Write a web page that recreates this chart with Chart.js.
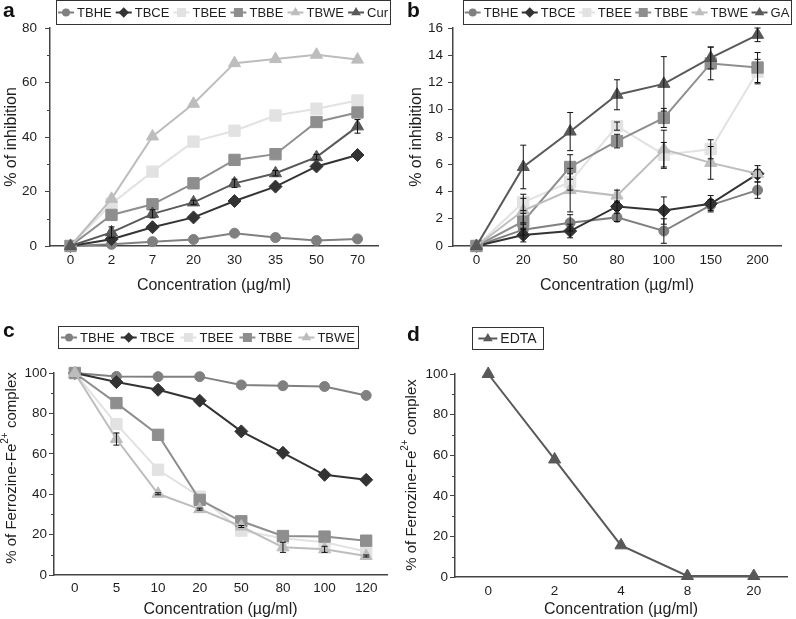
<!DOCTYPE html>
<html>
<head>
<meta charset="utf-8">
<script src="https://cdn.jsdelivr.net/npm/chart.js@4/dist/chart.umd.min.js"></script>
<style>
  body { margin: 0; background: #fff; width: 796px; height: 619px; position: relative; overflow: hidden; }
  canvas { position: absolute; }
</style>
</head>
<body>
<canvas id="chartA" width="400" height="300" style="left:0;top:0"></canvas>
<canvas id="chartB" width="396" height="300" style="left:400px;top:0"></canvas>
<canvas id="chartC" width="400" height="319" style="left:0;top:300px"></canvas>
<canvas id="chartD" width="396" height="319" style="left:400px;top:300px"></canvas>
<script>
// ---- data ----
let concA = ['0', '2', '7', '20', '30', '35', '50', '70'];
let a_tbhe = [0, 0.6, 1.6, 2.4, 4.7, 3.1, 2.0, 2.6];
let a_tbce = [0, 2.5, 6.9, 10.5, 16.5, 21.8, 29.2, 33.4];
let a_tbee = [0, 15.5, 27.3, 38.3, 42.3, 47.9, 50.4, 53.4];
let a_tbbe = [0, 11.4, 15.3, 23.0, 31.6, 33.7, 45.5, 49.0];
let a_tbwe = [0, 17.3, 40.2, 52.2, 67.1, 68.6, 70.2, 68.4];
let a_cur = [0, 5.0, 11.8, 16.0, 23.0, 26.7, 32.6, 43.9];
let a_curErr = [0, 2.0, 1.5, 0.8, 1.5, 1.0, 1.0, 2.5];

let concB = ['0', '20', '50', '80', '100', '150', '200'];
let b_tbhe = [0, 1.2, 1.7, 2.1, 1.1, 3.0, 4.1];
let b_tbce = [0, 0.8, 1.1, 2.9, 2.6, 3.1, 5.3];
let b_tbee = [0, 3.2, 4.7, 8.8, 6.7, 7.1, 12.8];
let b_tbbe = [0, 1.8, 5.8, 7.7, 9.4, 13.4, 13.1];
let b_tbwe = [0, 2.6, 4.1, 3.7, 7.1, 6.1, 5.3];
let b_ga = [0, 5.8, 8.4, 11.1, 11.9, 13.8, 15.5];
let b_tbheErr = [0, 0.4, 0.6, 0.3, 0.9, 0.4, 0.6];
let b_tbceErr = [0, 0.5, 0.5, 0.3, 1.0, 0.6, 0.6];
let b_tbeeErr = [0, 0.6, 0.6, 0.3, 0.9, 0.7, 0.9];
let b_tbbeErr = [0, 0.6, 0.9, 0.5, 0.7, 1.2, 1.1];
let b_tbweErr = [0, 0.9, 1.6, 0.4, 1.4, 1.2, 0.3];
let b_gaErr = [0, 1.6, 1.4, 1.1, 2.0, 0.8, 0.5];

let concC = ['0', '5', '10', '20', '50', '80', '100', '120'];
let c_tbhe = [100, 98.3, 98.2, 98.2, 94.1, 93.7, 93.3, 88.9];
let c_tbce = [100, 95.5, 91.7, 86.3, 71.1, 60.5, 49.6, 47.1];
let c_tbee = [100, 74.7, 52.1, 38.8, 22.0, 18.2, 16.2, 11.6];
let c_tbbe = [100, 85.1, 69.4, 37.2, 26.6, 19.3, 19.0, 17.0];
let c_tbwe = [100, 67.3, 40.2, 32.6, 24.0, 13.7, 12.7, 9.4];
let c_tbweErr = [0, 3.0, 0.5, 0.5, 0.5, 2.5, 1.5, 0.5];

let concD = ['0', '2', '4', '8', '20'];
let d_edta = [100, 57.9, 15.6, 0.5, 0.5];

// ---- look ----
const FONT = '"Liberation Sans", Arial, sans-serif';
const AXIS = '#444';
const TEXT = '#1e1e1e';

let styles = {
    TBHE: { color: '#808080', point: 'circle', r: 5 },
    TBCE: { color: '#333333', point: 'rectRot', r: 6.5 },
    TBEE: { color: '#e2e2e2', point: 'rect', r: 8 },
    TBBE: { color: '#8e8e8e', point: 'rect', r: 8 },
    TBWE: { color: '#bdbdbd', point: 'triangle', r: 7 },
    DARK: { color: '#595959', point: 'triangle', r: 7 },
};

let makeSet = function (label, data, errors, st, i) {
    return {
        label: label, data: data, errors: errors,
        borderColor: st.color, backgroundColor: st.color,
        pointStyle: st.point, pointRadius: st.r, pointHoverRadius: st.r,
        pointBorderWidth: 1, borderWidth: 2, tension: 0, clip: false,
        order: -i,
    };
};

// draws marker shapes for the legend
let drawMarker = function (ctx, style, r, x, y) {
    ctx.beginPath();
    if (style === 'circle') {
        ctx.arc(x, y, r, 0, Math.PI * 2);
    } else if (style === 'rect') {
        let s = r * Math.SQRT1_2;
        ctx.rect(x - s, y - s, 2 * s, 2 * s);
    } else if (style === 'rectRot') {
        ctx.moveTo(x, y - r); ctx.lineTo(x + r, y); ctx.lineTo(x, y + r); ctx.lineTo(x - r, y);
        ctx.closePath();
    } else if (style === 'triangle') {
        ctx.moveTo(x, y - r);
        ctx.lineTo(x + r * Math.sin(2 * Math.PI / 3), y - r * Math.cos(2 * Math.PI / 3));
        ctx.lineTo(x + r * Math.sin(4 * Math.PI / 3), y - r * Math.cos(4 * Math.PI / 3));
        ctx.closePath();
    }
    ctx.fill();
};

const errorBars = {
    id: 'errorBars',
    afterDatasetsDraw(chart) {
        let ctx = chart.ctx, ys = chart.scales.y;
        ctx.save();
        ctx.strokeStyle = '#111';
        ctx.lineWidth = 1;
        chart.data.datasets.forEach(function (d, i) {
            if (!d.errors) return;
            chart.getDatasetMeta(i).data.forEach(function (pt, j) {
                let e = d.errors[j];
                if (!e) return;
                let y1 = ys.getPixelForValue(d.data[j] + e);
                let y2 = ys.getPixelForValue(Math.max(0, d.data[j] - e));
                ctx.beginPath();
                ctx.moveTo(pt.x, y1); ctx.lineTo(pt.x, y2);
                ctx.moveTo(pt.x - 3, y1); ctx.lineTo(pt.x + 3, y1);
                ctx.moveTo(pt.x - 3, y2); ctx.lineTo(pt.x + 3, y2);
                ctx.stroke();
            });
        });
        ctx.restore();
    }
};

const extras = {
    id: 'extras',
    afterDraw(chart, args, o) {
        let ctx = chart.ctx;
        let area = chart.chartArea;
        ctx.save();

        // minor ticks on y
        let ys = chart.scales.y;
        ctx.strokeStyle = AXIS;
        ctx.lineWidth = 1;
        ys.ticks.forEach(function (t) {
            if (t.value % o.major === 0) return;
            let py = Math.round(ys.getPixelForValue(t.value)) + 0.5;
            ctx.beginPath(); ctx.moveTo(area.left - 3, py); ctx.lineTo(area.left, py); ctx.stroke();
        });

        // panel letter
        ctx.fillStyle = '#111';
        ctx.font = 'bold 21px ' + FONT;
        ctx.textBaseline = 'alphabetic';
        ctx.fillText(o.letter, o.lx, o.ly);

        // legend in a box
        let lg = o.legend;
        ctx.font = lg.size + 'px ' + FONT;
        let sets = chart.data.datasets;
        let widths = sets.map(function (d) { return ctx.measureText(d.label).width; });
        let sum = widths.reduce(function (a, b) { return a + b; }, 0);
        let g = (lg.w - sets.length * (lg.line + 3) - sum) / sets.length;
        ctx.strokeStyle = '#333';
        ctx.strokeRect(lg.x + 0.5, lg.y + 0.5, lg.w, lg.h);
        let x = lg.x + g / 2;
        let cy = lg.y + lg.h / 2 + 0.5;
        ctx.textBaseline = 'middle';
        sets.forEach(function (d, i) {
            ctx.strokeStyle = d.borderColor;
            ctx.fillStyle = d.borderColor;
            ctx.lineWidth = 2;
            ctx.beginPath(); ctx.moveTo(x, cy); ctx.lineTo(x + lg.line, cy); ctx.stroke();
            drawMarker(ctx, d.pointStyle, d.pointRadius * 0.8, x + lg.line / 2, cy);
            x += lg.line + 3;
            ctx.fillStyle = TEXT;
            ctx.fillText(d.label, x, cy + 1);
            x += widths[i] + g;
        });

        // y title with superscript
        if (o.yTitle) {
            let yt = o.yTitle;
            ctx.translate(yt.x, yt.y);
            ctx.rotate(-Math.PI / 2);
            ctx.fillStyle = TEXT;
            let big = yt.size + 'px ' + FONT, small = Math.round(yt.size * 0.65) + 'px ' + FONT;
            let w = 0;
            yt.parts.forEach(function (p) { ctx.font = p.sup ? small : big; w += ctx.measureText(p.text).width; });
            let tx = -w / 2;
            yt.parts.forEach(function (p) {
                ctx.font = p.sup ? small : big;
                ctx.fillText(p.text, tx, p.sup ? -yt.size * 0.42 : 0);
                tx += ctx.measureText(p.text).width;
            });
        }
        ctx.restore();
    }
};

let makeChart = function (id, labels, datasets, p) {
    return new Chart(document.getElementById(id), {
        type: 'line',
        data: { labels: labels, datasets: datasets },
        plugins: [errorBars, extras],
        options: {
            responsive: false,
            animation: false,
            events: [],
            layout: { padding: { top: p.top, right: p.right, bottom: 0, left: 0 } },
            plugins: {
                legend: { display: false },
                tooltip: { enabled: false },
                extras: p.extras,
            },
            scales: {
                x: {
                    type: 'category',
                    offset: true,
                    grid: { display: false, drawTicks: false },
                    border: { color: AXIS, width: 1.5 },
                    ticks: { color: TEXT, font: { family: FONT, size: 13.5 }, padding: p.xPad, maxRotation: 0, autoSkip: false },
                    title: { display: true, text: 'Concentration (µg/ml)', color: TEXT, font: { family: FONT, size: 16 }, padding: { top: 0, bottom: p.xTitlePad } },
                    afterFit: function (s) { s.height = p.xHeight; },
                },
                y: {
                    min: 0, max: p.max,
                    grid: {
                        drawOnChartArea: false, tickLength: 5,
                        tickColor: function (c) { return c.tick && c.tick.value % p.extras.major === 0 ? AXIS : 'rgba(0,0,0,0)'; },
                    },
                    border: { color: AXIS, width: 1.5 },
                    ticks: {
                        stepSize: p.extras.major / 2, color: TEXT, font: { family: FONT, size: 13.5 }, padding: p.yPad,
                        callback: function (v) { return v % p.extras.major === 0 ? v : ''; },
                    },
                    title: { display: !!p.yTitle, text: p.yTitle, color: TEXT, font: { family: FONT, size: 16 }, padding: { top: p.yTitlePad, bottom: 0 } },
                    afterFit: function (s) { s.width = p.yWidth; },
                },
            },
        },
    });
};

// panel a
makeChart('chartA', concA, [
    makeSet('TBHE', a_tbhe, null, styles.TBHE, 0),
    makeSet('TBCE', a_tbce, null, styles.TBCE, 1),
    makeSet('TBEE', a_tbee, null, styles.TBEE, 2),
    makeSet('TBBE', a_tbbe, null, styles.TBBE, 3),
    makeSet('TBWE', a_tbwe, null, styles.TBWE, 4),
    makeSet('Cur', a_cur, a_curErr, styles.DARK, 5),
], {
    top: 28, right: 22, max: 80, yWidth: 50, xHeight: 54, xPad: 6, xTitlePad: 5, yPad: 8, yTitle: '% of inhibition', yTitlePad: 2,
    extras: { major: 20, letter: 'a', lx: 3, ly: 17, legend: { x: 56, y: 0, w: 334, h: 24, line: 16, size: 13 } },
});

// panel b
makeChart('chartB', concB, [
    makeSet('TBHE', b_tbhe, b_tbheErr, styles.TBHE, 0),
    makeSet('TBCE', b_tbce, b_tbceErr, styles.TBCE, 1),
    makeSet('TBEE', b_tbee, b_tbeeErr, styles.TBEE, 2),
    makeSet('TBBE', b_tbbe, b_tbbeErr, styles.TBBE, 3),
    makeSet('TBWE', b_tbwe, b_tbweErr, styles.TBWE, 4),
    makeSet('GA', b_ga, b_gaErr, styles.DARK, 5),
], {
    top: 28, right: 15, max: 16, yWidth: 53, xHeight: 54, xPad: 6, xTitlePad: 5, yPad: 5, yTitle: '% of inhibition', yTitlePad: 7,
    extras: { major: 2, letter: 'b', lx: 7, ly: 17, legend: { x: 63, y: 0, w: 328, h: 24, line: 16, size: 13 } },
});

// panel c
makeChart('chartC', concC, [
    makeSet('TBHE', c_tbhe, null, styles.TBHE, 0),
    makeSet('TBCE', c_tbce, null, styles.TBCE, 1),
    makeSet('TBEE', c_tbee, null, styles.TBEE, 2),
    makeSet('TBBE', c_tbbe, null, styles.TBBE, 3),
    makeSet('TBWE', c_tbwe, c_tbweErr, styles.TBWE, 4),
], {
    top: 73, right: 13, max: 100, yWidth: 54, xHeight: 44, xPad: 5, xTitlePad: 0, yPad: 2, yTitle: '', yTitlePad: 0,
    extras: {
        major: 20, letter: 'c', lx: 3, ly: 37, legend: { x: 58, y: 26, w: 300, h: 22, line: 16, size: 13 },
        yTitle: { x: 12, y: 168, size: 15, parts: [{ text: '% of Ferrozine-Fe' }, { text: '2+', sup: true }, { text: ' complex' }] },
    },
});

// panel d
makeChart('chartD', concD, [
    makeSet('EDTA', d_edta, null, styles.DARK, 0),
], {
    top: 74, right: 9, max: 100, yWidth: 55, xHeight: 42, xPad: 6, xTitlePad: 0, yPad: 2, yTitle: '', yTitlePad: 0,
    extras: {
        major: 20, letter: 'd', lx: 7, ly: 41, legend: { x: 72, y: 27, w: 71, h: 22, line: 19, size: 14 },
        yTitle: { x: 12, y: 175, size: 15, parts: [{ text: '% of Ferrozine-Fe' }, { text: '2+', sup: true }, { text: ' complex' }] },
    },
});
</script>
</body>
</html>
